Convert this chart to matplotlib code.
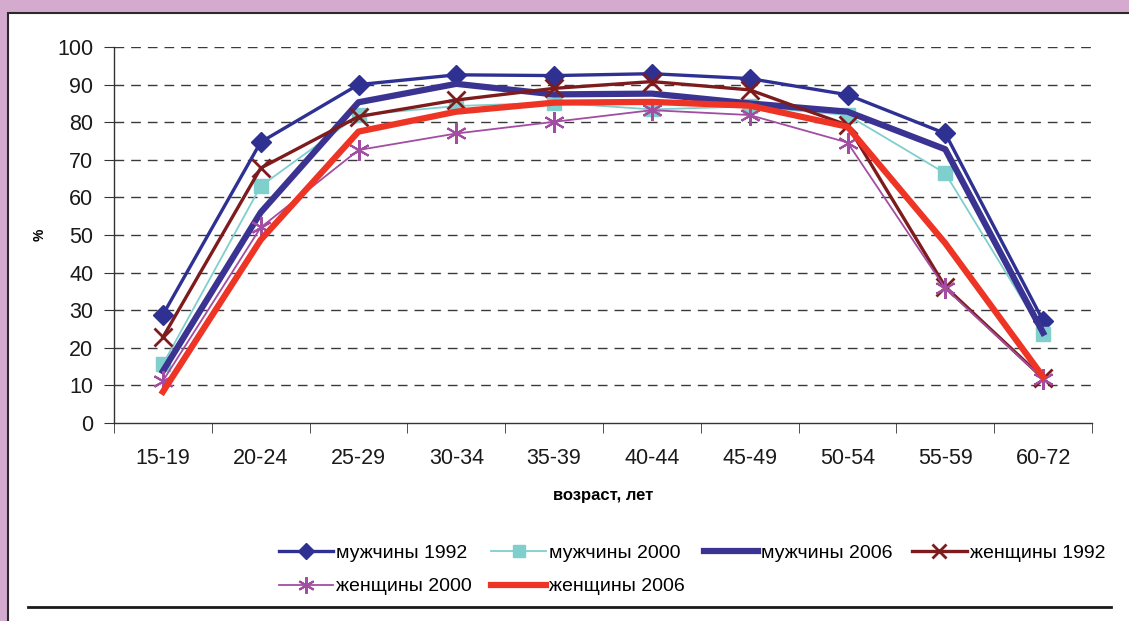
import matplotlib.pyplot as plt
from matplotlib.patches import Rectangle
from matplotlib.lines import Line2D

plt.rcParams['font.family'] = ['Liberation Sans', 'DejaVu Sans']

ages = ['15-19', '20-24', '25-29', '30-34', '35-39', '40-44', '45-49', '50-54', '55-59', '60-72']

men_1992 = [28.8, 74.7, 90.0, 92.6, 92.4, 92.9, 91.6, 87.3, 77.0, 27.2]
men_2000 = [15.6, 63.0, 81.9, 84.3, 85.2, 83.4, 84.2, 81.9, 66.4, 23.8]
men_2006 = [13.8, 56.0, 85.3, 90.2, 87.4, 87.6, 85.0, 82.8, 72.8, 24.0]
women_1992 = [22.8, 67.8, 81.5, 85.9, 89.0, 90.8, 88.6, 79.2, 36.2, 11.9]
women_2000 = [11.2, 52.0, 72.6, 77.0, 80.1, 83.2, 81.9, 74.6, 35.8, 11.8]
women_2006 = [8.3, 48.7, 77.5, 82.8, 85.2, 85.4, 84.4, 78.8, 47.8, 12.3]

labels = ['мужчины 1992', 'мужчины 2000', 'мужчины 2006',
          'женщины 1992', 'женщины 2000', 'женщины 2006']

W, H = 1129, 621
fig = plt.figure(figsize=(W / 100, H / 100), dpi=100, facecolor='#D4AACF')

# white panel with dark border
fig.patches.append(Rectangle((8 / W, -0.05), 1.1, (H - 12.5) / H + 0.05,
                             transform=fig.transFigure, facecolor='white',
                             edgecolor='#2a2a2a', lw=1.5, zorder=0))
fig.lines.append(Line2D([28 / W, 1111 / W], [(H - 607) / H] * 2,
                        transform=fig.transFigure, color='#1a1a1a', lw=2))

ax = fig.add_axes([114 / W, (H - 423) / H, 978 / W, 376 / H])
ax.set_zorder(3)
ax.set_facecolor('none')
x = list(range(len(ages)))

h = []
h += ax.plot(x, men_1992, color='#2E3192', lw=2.4, marker='D', ms=10, zorder=3)
h += ax.plot(x, men_2000, color='#7FCFCC', lw=1.3, marker='s', ms=10, zorder=4)
h += ax.plot(x, men_2006, color='#3B3391', lw=4.5, zorder=5)
h += ax.plot(x, women_1992, color='#7E1B1C', lw=2.4, marker='x', ms=13, mew=2, zorder=6)
h += ax.plot(x, women_2000, color='#A34DA2', lw=1.3, marker=(6, 2, 0), ms=15, mew=1.5, zorder=7)
h += ax.plot(x, women_2006, color='#EE3424', lw=4.5, zorder=8)

ax.set_xlim(-0.5, len(ages) - 0.5)
ax.set_ylim(0, 100)
ax.set_yticks(range(0, 101, 10))
ax.set_xticks(x)
ax.set_xticklabels(ages)
ax.set_xticks([i - 0.5 for i in range(len(ages) + 1)], minor=True)
ax.tick_params(axis='x', which='major', length=0, pad=18, labelsize=15.5, colors='#1a1a1a')
ax.tick_params(axis='x', which='minor', length=7, direction='out', color='#333')
ax.tick_params(axis='y', length=7, direction='out', pad=8, labelsize=15.5, colors='#333',
               labelcolor='#1a1a1a')

for y in range(10, 101, 10):
    ax.axhline(y, color='#3a3a3a', lw=1, ls=(0, (7, 5)), zorder=1)

for s in ['top', 'right']:
    ax.spines[s].set_visible(False)
for s in ['left', 'bottom']:
    ax.spines[s].set_color('#333')
    ax.spines[s].set_linewidth(1)

ax.set_xlabel('возраст, лет', fontsize=12, fontweight='bold', labelpad=14)
fig.text(40 / W, (H - 235) / H, '%', rotation=90, fontsize=10, fontweight='bold',
         ha='center', va='center')

order = [0, 4, 1, 5, 2, 3]
leg = fig.legend([h[i] for i in order], [labels[i] for i in order], ncol=4,
                 loc='center', bbox_to_anchor=(692 / W, (H - 570) / H), frameon=False,
                 fontsize=14, handlelength=2.8, handletextpad=0.15, columnspacing=1.0,
                 labelspacing=0.8, numpoints=1, markerscale=0.8)
leg.set_zorder(4)

fig.savefig('out.png', dpi=100, facecolor=fig.get_facecolor())
